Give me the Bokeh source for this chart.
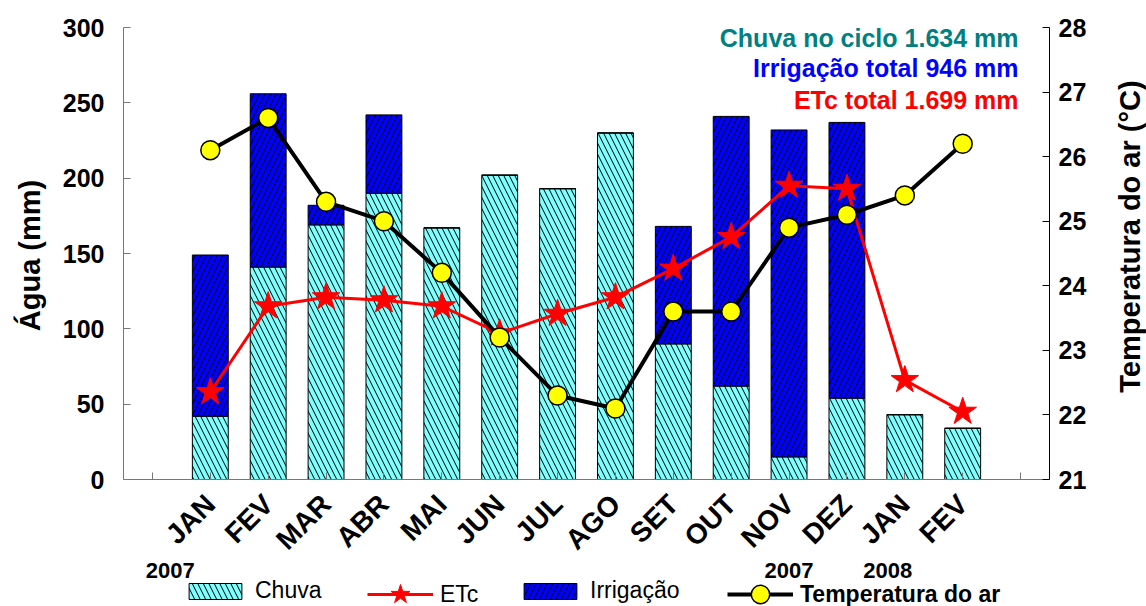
from math import pi
from bokeh.plotting import figure
from bokeh.models import (Range1d, LinearAxis, FixedTicker, Legend, LegendItem,
                          Label, ColumnDataSource)
from bokeh.embed import file_html
from bokeh.resources import INLINE

# ---------------- data ----------------
months = ["JAN", "FEV", "MAR", "ABR", "MAI", "JUN", "JUL", "AGO",
          "SET", "OUT", "NOV", "DEZ", "JAN", "FEV"]
chuva = [42, 141, 169, 190, 167, 202, 193, 230, 90, 62, 15, 54, 43, 34]
irrigacao = [107, 115, 13, 52, 0, 0, 0, 0, 78, 179, 217, 183, 0, 0]
etc = [58, 115, 121, 119, 115, 97, 110, 121, 140, 161, 195, 193, 66, 45]
temperatura = [26.1, 26.6, 25.3, 25.0, 24.2, 23.2, 22.3, 22.1,
               23.6, 23.6, 24.9, 25.1, 25.4, 26.2]
water_ticks = [0, 50, 100, 150, 200, 250, 300]
temp_ticks = [21, 22, 23, 24, 25, 26, 27, 28]
year_labels = [("2007", 0, -40), ("2007", 10, 0), ("2008", 12, -17)]
totals_text = ["Chuva no ciclo 1.634 mm", "Irrigação total 946 mm", "ETc total 1.699 mm"]

# ---------------- layout (pixels) ----------------
W, H = 1146, 606
AX_L, AX_R, AX_T, AX_B = 123, 1049, 27, 479   # axes box in canvas pixels
X0, X1 = -1.5, 14.5
Y0, Y1 = 0, 300
T0, T1 = 21, 28

FONT = "Liberation Sans"
CYAN = "#80FFFF"
BLUE = "#0000FF"

# ranges chosen so that the axes box lands on AX_* while the frame fills the canvas
xs = (AX_R - AX_L) / (X1 - X0)
ys = (AX_B - AX_T) / (Y1 - Y0)
ts = (AX_B - AX_T) / (T1 - T0)
x_range = Range1d(X0 - AX_L / xs, X1 + (W - AX_R) / xs)
y_range = Range1d(Y0 - (H - AX_B) / ys, Y1 + AX_T / ys)
t_range = Range1d(T0 - (H - AX_B) / ts, T1 + AX_T / ts)

x = list(range(len(months)))
src = ColumnDataSource(dict(x=x, chuva=chuva, irrigacao=irrigacao,
                            etc=etc, temp=temperatura))

p = figure(width=W, height=H, x_range=x_range, y_range=y_range,
           output_backend="svg", toolbar_location=None,
           min_border=0, min_border_left=0, min_border_right=0,
           min_border_top=0, min_border_bottom=0)
p.extra_y_ranges = {"temp": t_range}
p.xgrid.visible = False
p.ygrid.visible = False
p.outline_line_color = None
p.background_fill_color = "white"
p.border_fill_color = "white"

# bars
bars = p.vbar_stack(["chuva", "irrigacao"], x="x", width=0.62, source=src,
                    fill_color=[CYAN, BLUE], line_color="black", line_width=1,
                    hatch_pattern=["left_diagonal_line", "right_diagonal_line"],
                    hatch_color="black", hatch_scale=11, hatch_weight=1)
r_chuva, r_irr = bars

# ETc
r_etc_l = p.line("x", "etc", source=src, line_color="red", line_width=3)
r_etc_s = p.scatter("x", "etc", source=src, marker="star", size=29,
                    fill_color="red", line_color="red")

# temperature
r_t_l = p.line("x", "temp", source=src, y_range_name="temp",
               line_color="black", line_width=4)
r_t_s = p.scatter("x", "temp", source=src, y_range_name="temp",
                  marker="circle", size=19, fill_color="yellow",
                  line_color="black", line_width=1.5)

# axes
xa = p.xaxis[0]
xa.fixed_location = 0
xa.bounds = (X0, X1)
xa.ticker = FixedTicker(ticks=list(range(-1, 15)))
ov = {i: m for i, m in enumerate(months)}
ov[-1] = ""
ov[14] = ""
xa.major_label_overrides = ov
xa.major_label_orientation = pi / 4
xa.major_label_text_font = FONT
xa.major_label_text_font_style = "bold"
xa.major_label_text_font_size = "28px"
xa.major_label_text_color = "black"
xa.major_label_standoff = 20
xa.major_tick_in = 7
xa.major_tick_out = 0
xa.minor_tick_line_color = None
xa.axis_line_color = "#777777"
xa.major_tick_line_color = "#777777"

ya = p.yaxis[0]
ya.fixed_location = X0
ya.bounds = (Y0, Y1)
ya.ticker = FixedTicker(ticks=water_ticks)
ya.major_label_text_font = FONT
ya.major_label_text_font_style = "bold"
ya.major_label_text_font_size = "25px"
ya.major_label_text_color = "black"
ya.major_label_standoff = 19
ya.major_tick_in = 7
ya.major_tick_out = 0
ya.minor_tick_line_color = None
ya.axis_line_color = "#777777"
ya.major_tick_line_color = "#777777"

ra = LinearAxis(y_range_name="temp", ticker=FixedTicker(ticks=temp_ticks),
                fixed_location=X1, bounds=(T0, T1))
ra.major_label_text_font = FONT
ra.major_label_text_font_style = "bold"
ra.major_label_text_font_size = "25px"
ra.major_label_text_color = "black"
ra.major_label_standoff = 9
ra.major_tick_in = 7
ra.major_tick_out = 0
ra.minor_tick_line_color = None
ra.axis_line_color = "black"
ra.major_tick_line_color = "black"
p.add_layout(ra, "right")

# axis titles (read bottom-to-top)
for txt, sx, sy in [("Água (mm)", 29, H - 255), ("Temperatura do ar (°C)", 1129, H - 236)]:
    p.add_layout(Label(x=sx, y=sy, x_units="screen", y_units="screen",
                       text=txt, angle=pi / 2, text_align="center",
                       text_baseline="middle", text_font=FONT,
                       text_font_style="bold", text_font_size="29px",
                       text_color="black"))

# totals text
for txt, col, base in zip(totals_text, ["#008080", BLUE, "red"], [37, 67, 99]):
    p.add_layout(Label(x=1018, y=H - base, x_units="screen", y_units="screen",
                       text=txt, text_align="right", text_baseline="alphabetic",
                       text_color=col, text_font=FONT, text_font_style="bold",
                       text_font_size="25px"))

# year labels
for txt, xi, off in year_labels:
    p.add_layout(Label(x=xi, y=H - 570, x_units="data", y_units="screen",
                       x_offset=off, text=txt, text_align="center",
                       text_baseline="middle", text_font=FONT,
                       text_font_style="bold", text_font_size="22px",
                       text_color="black"))

# legends
def make_legend(label, renderers, left, center_y, gh, bold=False):
    lg = Legend(items=[LegendItem(label=label, renderers=renderers)],
                location=(left, H - center_y - gh / 2), orientation="horizontal",
                glyph_width=66, glyph_height=gh, label_standoff=7, padding=0,
                margin=0, border_line_color=None, background_fill_alpha=0,
                label_text_font=FONT, label_text_font_size="23px",
                label_text_font_style="bold" if bold else "normal",
                label_text_color="black", label_height=20)
    p.add_layout(lg)

make_legend("Chuva", [r_chuva], 182, 594, 20)
make_legend("ETc", [r_etc_l, r_etc_s], 367, 594, 50)
make_legend("Irrigação", [r_irr], 517, 594, 20)
make_legend("Temperatura do ar", [r_t_l, r_t_s], 727, 594, 46, bold=True)

open("out.html", "w").write(file_html(p, INLINE))
